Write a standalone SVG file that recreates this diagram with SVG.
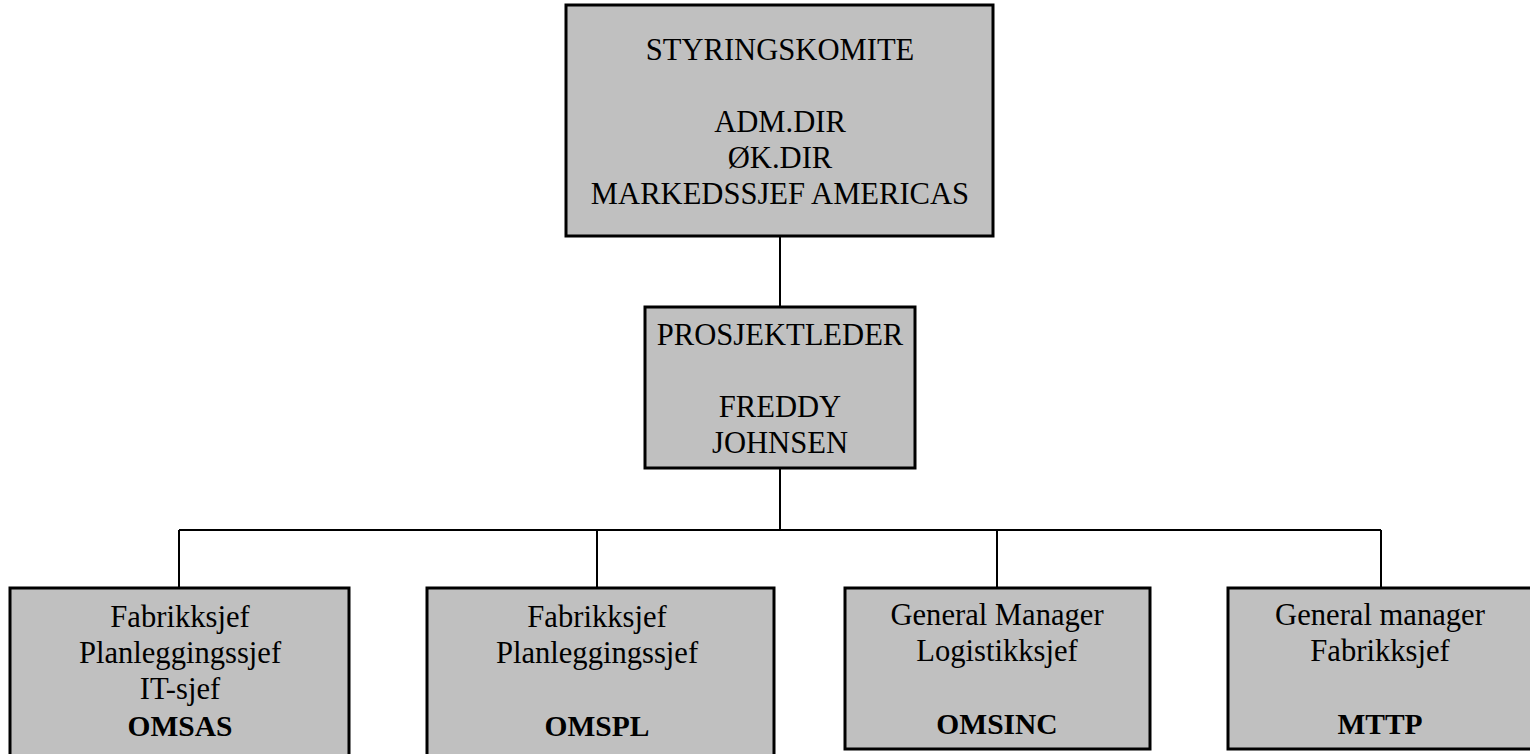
<svg xmlns="http://www.w3.org/2000/svg" width="1530" height="754" viewBox="0 0 1530 754">
  <style>
    .box { fill: #c0c0c0; stroke: #000; stroke-width: 3; }
    .lbl { font-family: "Liberation Serif", "Times New Roman", serif; font-size: 30.6px; fill: #000; text-anchor: middle; }
    .b { font-weight: bold; font-size: 29.5px; }
    .wire { fill: none; stroke: #000; stroke-width: 2; }
  </style>
  <rect width="1530" height="754" fill="#fff"/>

  <!-- connectors -->
  <g id="connectors">
    <path class="wire" d="M780 236 V307"/>
    <path class="wire" d="M780 468 V530"/>
    <path class="wire" d="M179 530 H1381"/>
    <path class="wire" d="M179 530 V588"/>
    <path class="wire" d="M597 530 V588"/>
    <path class="wire" d="M997 530 V588"/>
    <path class="wire" d="M1381 530 V588"/>
  </g>

  <!-- steering committee -->
  <g id="styringskomite">
    <rect class="box" x="566" y="5" width="427" height="231"/>
    <text class="lbl" x="780" y="60">STYRINGSKOMITE</text>
    <text class="lbl" x="780" y="132">ADM.DIR</text>
    <text class="lbl" x="780" y="168">ØK.DIR</text>
    <text class="lbl" x="780" y="204">MARKEDSSJEF AMERICAS</text>
  </g>

  <!-- project leader -->
  <g id="prosjektleder">
    <rect class="box" x="645" y="307" width="270" height="161"/>
    <text class="lbl" x="780" y="345">PROSJEKTLEDER</text>
    <text class="lbl" x="780" y="417">FREDDY</text>
    <text class="lbl" x="780" y="453">JOHNSEN</text>
  </g>

  <!-- sites -->
  <g id="omsas">
    <rect class="box" x="10" y="588" width="339" height="180"/>
    <text class="lbl" x="180" y="627">Fabrikksjef</text>
    <text class="lbl" x="180" y="663">Planleggingssjef</text>
    <text class="lbl" x="180" y="699">IT-sjef</text>
    <text class="lbl b" x="180" y="736">OMSAS</text>
  </g>

  <g id="omspl">
    <rect class="box" x="427" y="588" width="347" height="180"/>
    <text class="lbl" x="597" y="627">Fabrikksjef</text>
    <text class="lbl" x="597" y="663">Planleggingssjef</text>
    <text class="lbl b" x="597" y="736">OMSPL</text>
  </g>

  <g id="omsinc">
    <rect class="box" x="845" y="588" width="305" height="161"/>
    <text class="lbl" x="997" y="625">General Manager</text>
    <text class="lbl" x="997" y="661">Logistikksjef</text>
    <text class="lbl b" x="997" y="734">OMSINC</text>
  </g>

  <g id="mttp">
    <rect class="box" x="1228" y="588" width="320" height="161"/>
    <text class="lbl" x="1380" y="625">General manager</text>
    <text class="lbl" x="1380" y="661">Fabrikksjef</text>
    <text class="lbl b" x="1380" y="734">MTTP</text>
  </g>
</svg>
